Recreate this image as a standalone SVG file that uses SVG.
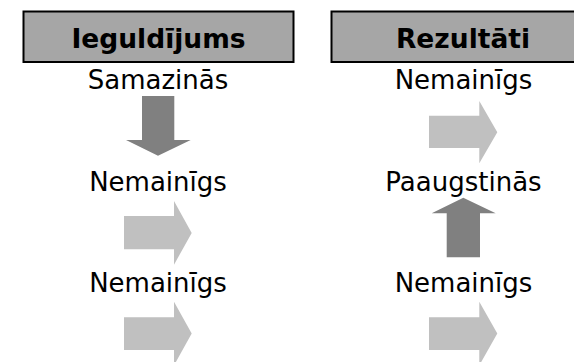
<svg xmlns="http://www.w3.org/2000/svg" width="574" height="362" viewBox="0 0 574 362">
  <style>
    .hdr { fill: #a6a6a6; stroke: #000000; stroke-width: 2; }
    .title { font-family: "DejaVu Sans", Verdana, sans-serif; font-weight: bold; font-size: 26.5px; fill: #000000; text-anchor: middle; }
    .state { font-family: "DejaVu Sans", Verdana, sans-serif; font-size: 26px; fill: #000000; text-anchor: middle; }
    .flat { fill: #c0c0c0; }
    .change { fill: #808080; }
  </style>
  <rect width="574" height="362" fill="#ffffff"/>

  <!-- column headers -->
  <g id="hdr-ieguldijums">
    <rect class="hdr" x="23.5" y="11.5" width="270" height="50.5"/>
    <text class="title" x="158.5" y="47.5">Ieguldījums</text>
  </g>
  <g id="hdr-rezultati">
    <rect class="hdr" x="331.5" y="11.5" width="264" height="50.5"/>
    <text class="title" x="463" y="47.5">Rezultāti</text>
  </g>

  <!-- state labels -->
  <g id="l1"><text class="state" x="158" y="89">Samazinās</text></g>
  <g id="l2"><text class="state" x="158" y="191">Nemainīgs</text></g>
  <g id="l3"><text class="state" x="158" y="292">Nemainīgs</text></g>
  <g id="r1"><text class="state" x="463.5" y="89">Nemainīgs</text></g>
  <g id="r2"><text class="state" x="463.5" y="191">Paaugstinās</text></g>
  <g id="r3"><text class="state" x="463.5" y="292">Nemainīgs</text></g>

  <!-- block arrows -->
  <g id="connectors">
    <path class="change" d="M142,96 H174.3 V140 H190.7 L158,155.7 L126,140 H142 Z"/>
    <path class="flat" d="M124,216 H174 V201 L191.7,233 L174,264.7 V249.3 H124 Z"/>
    <path class="flat" d="M124,317.3 H174 V301.7 L191.7,333.5 L174,365.4 V350 H124 Z"/>
    <path class="flat" d="M429,115.7 H479.3 V101 L497.3,132.2 L479.3,163.3 V148 H429 Z"/>
    <path class="change" d="M446.7,257.3 V213.3 H431.7 L463.3,197.7 L495.7,213.3 H480 V257.3 Z"/>
    <path class="flat" d="M429,317.3 H479.3 V301.7 L497.3,333.5 L479.3,365.4 V350 H429 Z"/>
  </g>
</svg>
